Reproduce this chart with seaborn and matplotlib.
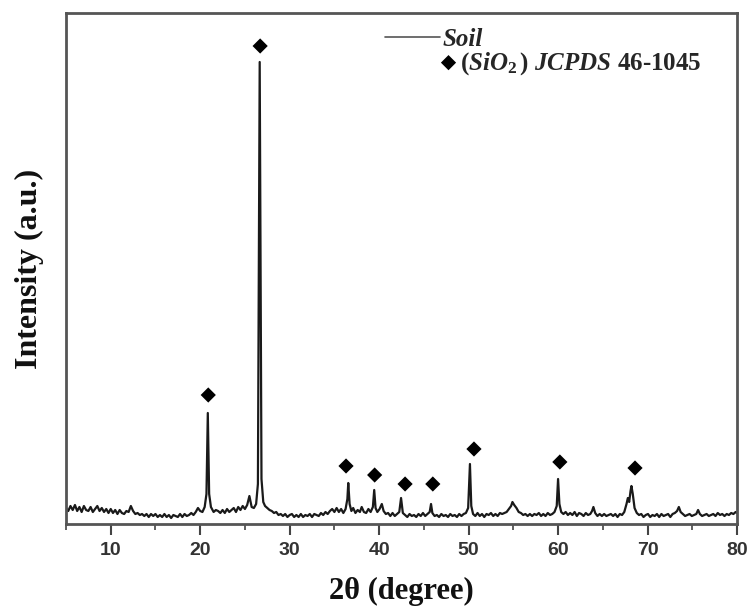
import matplotlib
matplotlib.use("Agg")
import matplotlib.pyplot as plt
from matplotlib.ticker import MultipleLocator
from matplotlib.font_manager import FontProperties
import seaborn as sns
import pandas as pd

# ---------------- data ----------------
two_theta = [
    5.00, 5.25, 5.50, 5.75, 6.00, 6.25, 6.50, 6.75, 7.00, 7.25, 7.50, 7.75, 8.00, 8.25, 8.50, 8.75,
    9.00, 9.25, 9.50, 9.75, 10.00, 10.25, 10.50, 10.75, 11.00, 11.25, 11.50, 11.75, 12.00, 12.25,
    12.50, 12.75, 13.00, 13.25, 13.50, 13.75, 14.00, 14.25, 14.50, 14.75, 15.00, 15.25, 15.50,
    15.75, 16.00, 16.25, 16.50, 16.75, 17.00, 17.25, 17.50, 17.75, 18.00, 18.25, 18.50, 18.75,
    19.00, 19.25, 19.50, 19.75, 20.00, 20.25, 20.50, 20.70, 20.85, 21.00, 21.20, 21.50, 21.75,
    22.00, 22.25, 22.50, 22.75, 23.00, 23.25, 23.50, 23.75, 24.00, 24.25, 24.50, 24.75, 25.00,
    25.25, 25.50, 25.75, 26.00, 26.25, 26.45, 26.65, 26.85, 27.05, 27.25, 27.50, 27.75, 28.00,
    28.25, 28.50, 28.75, 29.00, 29.25, 29.50, 29.75, 30.00, 30.25, 30.50, 30.75, 31.00, 31.25,
    31.50, 31.75, 32.00, 32.25, 32.50, 32.75, 33.00, 33.25, 33.50, 33.75, 34.00, 34.25, 34.50,
    34.75, 35.00, 35.25, 35.50, 35.75, 36.00, 36.25, 36.45, 36.55, 36.70, 36.90, 37.10, 37.35,
    37.60, 37.85, 38.05, 38.30, 38.55, 38.80, 39.05, 39.30, 39.45, 39.60, 39.80, 40.05, 40.30,
    40.50, 40.75, 41.00, 41.25, 41.50, 41.75, 42.00, 42.25, 42.45, 42.65, 42.90, 43.15, 43.40,
    43.65, 43.90, 44.15, 44.40, 44.65, 44.90, 45.15, 45.40, 45.65, 45.80, 45.95, 46.20, 46.45,
    46.70, 46.95, 47.20, 47.45, 47.70, 47.95, 48.20, 48.45, 48.70, 48.95, 49.20, 49.45, 49.70,
    49.95, 50.15, 50.30, 50.50, 50.75, 51.00, 51.25, 51.50, 51.75, 52.00, 52.25, 52.50, 52.75,
    53.00, 53.25, 53.50, 53.75, 54.00, 54.25, 54.50, 54.75, 54.90, 55.10, 55.35, 55.60, 55.85,
    56.10, 56.35, 56.60, 56.85, 57.10, 57.35, 57.60, 57.85, 58.10, 58.35, 58.60, 58.85, 59.10,
    59.35, 59.60, 59.85, 60.00, 60.15, 60.35, 60.60, 60.85, 61.10, 61.35, 61.60, 61.85, 62.10,
    62.35, 62.60, 62.85, 63.10, 63.35, 63.60, 63.80, 63.95, 64.15, 64.40, 64.65, 64.90, 65.15,
    65.40, 65.65, 65.90, 66.15, 66.40, 66.65, 66.90, 67.15, 67.40, 67.65, 67.80, 67.95, 68.10,
    68.20, 68.35, 68.55, 68.80, 69.05, 69.30, 69.55, 69.80, 70.05, 70.30, 70.55, 70.80, 71.05,
    71.30, 71.55, 71.80, 72.05, 72.30, 72.55, 72.80, 73.05, 73.30, 73.50, 73.70, 73.95, 74.20,
    74.45, 74.70, 74.95, 75.20, 75.45, 75.65, 75.85, 76.10, 76.35, 76.60, 76.85, 77.10, 77.35,
    77.60, 77.85, 78.10, 78.35, 78.60, 78.85, 79.10, 79.35, 79.60, 79.85, 80.00,
]
intensity = [
    16, 13, 18, 14, 19, 13, 17, 12, 18, 14, 13, 17, 12, 15, 18, 13,
    16, 12, 15, 11, 15, 11, 14, 10, 14, 11, 10, 13, 12, 18,
    13, 10, 11, 9, 10, 8, 10, 7, 10, 8, 10, 7, 9,
    7, 10, 7, 9, 6, 9, 8, 7, 10, 7, 10, 8, 9,
    11, 9, 12, 16, 13, 12, 17, 30, 111, 30, 17, 12, 14,
    13, 11, 14, 11, 15, 12, 14, 16, 12, 17, 14, 18, 15,
    19, 28, 17, 16, 20, 40, 462, 45, 22, 18, 16, 14, 13,
    11, 12, 9, 10, 8, 10, 7, 9, 10, 7, 9, 7, 10,
    7, 9, 8, 10, 7, 10, 9, 8, 11, 9, 12, 10, 13,
    15, 12, 16, 12, 15, 11, 15, 25, 41, 20, 13, 16, 11,
    14, 12, 17, 12, 11, 15, 12, 17, 34, 16, 12, 15, 20,
    13, 10, 11, 8, 11, 8, 10, 12, 26, 11, 9, 7, 10,
    8, 9, 7, 10, 8, 11, 8, 10, 12, 20, 11, 8, 9,
    7, 10, 8, 9, 7, 10, 8, 9, 7, 10, 8, 10, 11,
    16, 60, 18, 10, 8, 11, 8, 10, 7, 10, 9, 11, 8,
    10, 8, 11, 10, 11, 12, 15, 18, 22, 19, 16, 12, 11,
    9, 10, 8, 10, 8, 10, 9, 11, 8, 10, 8, 11, 9,
    10, 12, 18, 45, 20, 12, 10, 12, 9, 11, 9, 12, 8,
    11, 10, 8, 11, 9, 10, 13, 17, 11, 8, 10, 8, 10,
    8, 9, 10, 8, 10, 7, 10, 9, 12, 20, 26, 22, 33,
    38, 30, 16, 11, 9, 10, 7, 9, 10, 7, 9, 8, 10,
    7, 10, 8, 9, 10, 7, 10, 11, 13, 17, 12, 10, 8,
    9, 10, 8, 9, 10, 14, 10, 8, 9, 10, 8, 9, 10,
    8, 11, 9, 10, 8, 10, 9, 11, 10, 12, 11,
]
marker_theta = [20.9, 26.7, 36.3, 39.5, 42.9, 46.0, 50.6, 60.2, 68.6]
marker_height = [129, 478, 58, 49, 40, 40, 75, 62, 56]

x_ticks = [10, 20, 30, 40, 50, 60, 70, 80]
series_label = "Soil"
marker_label = r"$(SiO_2\,)$ $JCPDS$ 46-1045"
x_label = "2\u03b8 (degree)"
y_label = "Intensity (a.u.)"

# ---------------- style ----------------
sns.set_theme(style="ticks")
plt.rcParams["font.family"] = ["Liberation Serif", "DejaVu Serif"]
plt.rcParams["mathtext.fontset"] = "custom"
plt.rcParams["mathtext.rm"] = "Liberation Serif:bold"
plt.rcParams["mathtext.it"] = "Liberation Serif:italic:bold"
plt.rcParams["mathtext.bf"] = "Liberation Serif:bold"

fig = plt.figure(figsize=(7.48, 6.10), dpi=100)
ax = fig.add_axes([66 / 748, 1 - 524 / 610, 671 / 748, 511 / 610])

df = pd.DataFrame({"two_theta": two_theta, "intensity": intensity})
mk = pd.DataFrame({"two_theta": marker_theta, "height": marker_height})

sns.lineplot(data=df, x="two_theta", y="intensity", ax=ax, color="#1a1a1a",
             lw=1.6, sort=False, estimator=None, label=series_label)
sns.scatterplot(data=mk, x="two_theta", y="height", ax=ax, marker="D", s=60,
                color="black", edgecolor="none", label=marker_label, zorder=5)

ax.set_xlim(5, 80)
ax.set_ylim(0, 511)
ax.set_xticks(x_ticks)
ax.xaxis.set_minor_locator(MultipleLocator(5))
ax.set_yticks([])

tick_font = FontProperties(family=["Liberation Sans", "DejaVu Sans"], weight="bold", size=14)
for lab in ax.get_xticklabels():
    lab.set_fontproperties(tick_font)
    lab.set_color("#333333")
ax.tick_params(axis="x", which="major", direction="out", length=8, width=1.5,
               color="#444444", pad=5)
ax.tick_params(axis="x", which="minor", direction="out", length=4, width=1.2,
               color="#444444")

for side in ["top", "right", "left", "bottom"]:
    ax.spines[side].set_visible(True)
    ax.spines[side].set_linewidth(2.0)
    ax.spines[side].set_color("#555555")

ax.set_xlabel(x_label, fontsize=22, fontweight="bold", color="#111111", labelpad=13)
ax.set_ylabel(y_label, fontsize=23, fontweight="bold", color="#111111", labelpad=16)

# legend: two stacked entries, drawn as two legends so the marker sits close to its text
handles, labels = ax.get_legend_handles_labels()
leg_font = FontProperties(family="Liberation Serif", weight="bold", size=18)
leg1 = ax.legend([handles[0]], [labels[0]], loc="upper left",
                 bbox_to_anchor=((385 - 66) / 671, 0.971), frameon=False, prop=leg_font,
                 handlelength=2.2, handletextpad=0.1, borderpad=0, borderaxespad=0)
leg1.get_lines()[0].set_color("#555555")
leg1.get_lines()[0].set_linewidth(1.2)
leg1.get_texts()[0].set_style("italic")
ax.add_artist(leg1)
leg2 = ax.legend([handles[1]], [labels[1]], loc="upper left",
                 bbox_to_anchor=((441 - 66) / 671, 0.928), frameon=False, prop=leg_font,
                 handlelength=0.6, handletextpad=0.15, borderpad=0, borderaxespad=0)

fig.savefig("out.png", dpi=100)
